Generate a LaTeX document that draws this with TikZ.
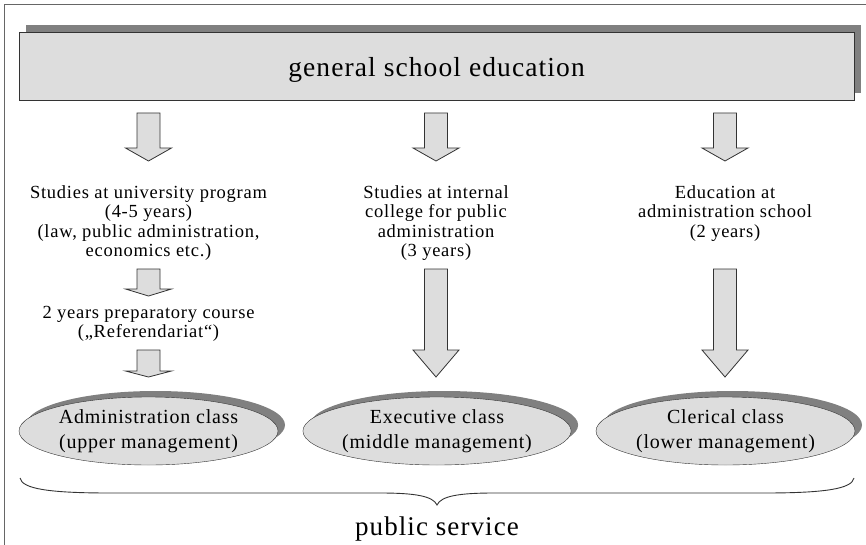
\documentclass[tikz,border=0pt]{standalone}
\usepackage{fontspec}
\setmainfont{Liberation Serif}[LetterSpace=4]
\usetikzlibrary{shapes.geometric,shadows}

\definecolor{boxgray}{HTML}{DDDDDD}
\definecolor{shadegray}{HTML}{808080}
\definecolor{linegray}{HTML}{333333}
\definecolor{framegray}{HTML}{666666}

\tikzset{
  titlebox/.style={draw=linegray,fill=boxgray,
    general shadow={shadow xshift=7pt,shadow yshift=7pt,fill=shadegray},
    minimum width=835pt,minimum height=68pt,inner sep=0pt,
    text height=21pt,text depth=0pt,
    font=\fontsize{27.5}{30}\selectfont},
  classbox/.style={ellipse,draw=linegray,fill=boxgray,
    general shadow={shadow xshift=7pt,shadow yshift=6pt,fill=shadegray},
    minimum width=259pt,minimum height=68pt,inner sep=0pt,align=center,
    font=\fontsize{20}{24.5}\selectfont},
  steptext/.style={align=center,inner sep=0pt,font=\fontsize{18.5}{19.3}\selectfont},
  blockarr/.style={draw=linegray,fill=boxgray,line width=0.8pt},
}

% block arrow: x, top of shaft, base of head, tip
\newcommand{\blockarrow}[4]{%
  \draw[blockarr] (#1-11.5,#2) -- (#1+11.5,#2) -- (#1+11.5,#3) -- (#1+23,#3)
    -- (#1,#4) -- (#1-23,#3) -- (#1-11.5,#3) -- cycle;}

\begin{document}
\begin{tikzpicture}[x=1pt,y=-1pt]
    \useasboundingbox (0,0) rectangle (866,545);
    \draw [framegray,line width=1.2pt] (866,4.5) -- (4.5,4.5) -- (4.5,545);

    \node [titlebox] (school) at (436.5,66) {general school education};

    % three ways into the service
    \node [steptext] (univ) at (148.5,223) {Studies at university program\\(4-5 years)\\(law, public administration,\\economics etc.)};
    \node [steptext] (college) at (436,223) {Studies at internal\\college for public\\administration\\(3 years)};
    \node [steptext] (adminschool) at (725,213.5) {Education at\\administration school\\(2 years)};
    \node [steptext] (prep) at (148.5,323.5) {2 years preparatory course\\(„Referendariat“)};

    \node [classbox] (upper) at (148.5,431) {Administration class\\(upper management)};
    \node [classbox] (middle) at (437,431) {Executive class\\(middle management)};
    \node [classbox] (lower) at (725.5,431) {Clerical class\\(lower management)};

    \blockarrow{148.5}{113}{148}{161}
    \blockarrow{436}{113}{148}{161}
    \blockarrow{725}{113}{148}{161}
    \blockarrow{148.5}{269}{289}{296}
    \blockarrow{148.5}{350}{371}{377}
    \blockarrow{436}{269}{350}{377}
    \blockarrow{725}{269}{350}{377}

    % brace under the classes
    \coordinate (braceL) at (20,478);
    \coordinate (braceM) at (437,505);
    \coordinate (braceR) at (854,478);
    \draw [linegray,line width=0.9pt] (braceL) .. controls (22,489) and (50,493) .. (110,493) -- (380,493)
        .. controls (415,493) and (433,496) .. (braceM)
        .. controls (441,496) and (459,493) .. (494,493) -- (764,493)
        .. controls (824,493) and (852,489) .. (braceR);
    \node [font=\fontsize{27}{30}\selectfont] (service) at (437,529) {public service};
\end{tikzpicture}
\end{document}
